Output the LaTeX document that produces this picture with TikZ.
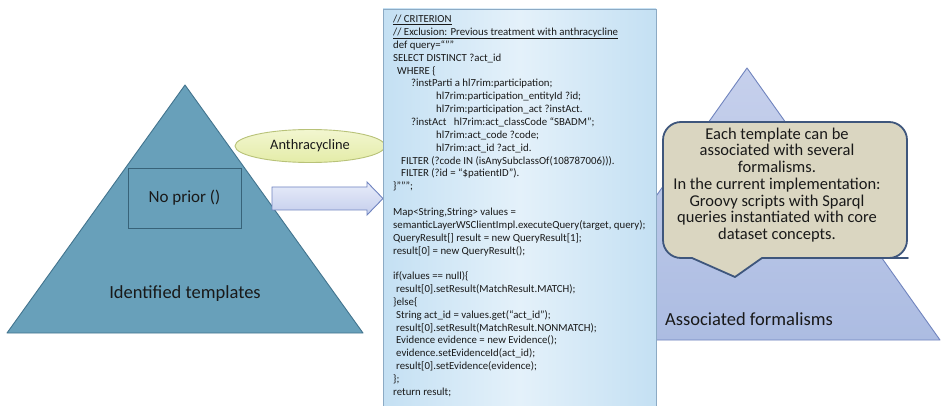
\documentclass[tikz,border=0pt]{standalone}
\usepackage{fontspec}
\setmainfont{Carlito}
\usetikzlibrary{shapes.geometric}
\definecolor{lefttrifill}{RGB}{104,160,186}
\definecolor{lefttriline}{RGB}{66,116,142}
\definecolor{righttritop}{RGB}{198,208,236}
\definecolor{righttribot}{RGB}{172,188,226}
\definecolor{righttriline}{RGB}{112,132,190}
\definecolor{anthfill}{RGB}{228,236,168}
\definecolor{anthtop}{RGB}{242,246,208}
\definecolor{anthline}{RGB}{184,194,120}
\definecolor{arrowfill}{RGB}{196,206,236}
\definecolor{arrowtop}{RGB}{232,236,250}
\definecolor{arrowline}{RGB}{112,132,192}
\definecolor{codeedge}{RGB}{196,224,243}
\definecolor{codemid}{RGB}{228,241,250}
\definecolor{codeline}{RGB}{140,170,196}
\definecolor{bubblefill}{RGB}{218,214,193}
\definecolor{bubbleline}{RGB}{62,86,124}
\definecolor{txt}{RGB}{25,25,25}
\tikzset{
  lefttri/.style={fill=lefttrifill, draw=lefttriline, line width=0.9pt, line join=round},
  righttri/.style={top color=righttritop, bottom color=righttribot, draw=righttriline, line width=0.9pt, line join=round},
  nopriorbox/.style={draw=lefttriline!85!black, line width=0.9pt, minimum width=113pt, minimum height=60pt, inner sep=0pt, font=\fontsize{17}{20}\selectfont, text=txt},
  bigtxt/.style={font=\fontsize{18.5}{22}\selectfont, text=txt, inner sep=0pt},
  anthnode/.style={ellipse, top color=anthtop, bottom color=anthfill, draw=anthline, line width=0.9pt, minimum width=150pt, minimum height=33pt, inner sep=0pt, font=\fontsize{14.4}{17}\selectfont, text=txt},
  blockarrow/.style={top color=arrowtop, bottom color=arrowfill, draw=arrowline, line width=0.9pt, line join=miter},
  codebox/.style={left color=codeedge, right color=codeedge, middle color=codemid, draw=codeline, line width=0.9pt},
  codetext/.style={anchor=north west, align=left, inner sep=0pt, font=\fontsize{10.8}{12.85}\selectfont, text=txt},
  bubble/.style={fill=bubblefill, draw=bubbleline, line width=1.8pt, line join=round},
  bubbletext/.style={align=center, inner sep=0pt, font=\fontsize{16.5}{16.7}\selectfont, text=txt}
}
\begin{document}
\begin{tikzpicture}[x=1pt,y=-1pt]
\useasboundingbox (0,0) rectangle (942,406);
\clip (0,0) rectangle (942,406);
\fill[white] (0,0) rectangle (942,406);
% left pyramid
\coordinate (LA) at (185,85);
\coordinate (LL) at (7,333);
\coordinate (LR) at (363,333);
\draw[lefttri] (LL) -- (LA) -- (LR) -- cycle;
\node[nopriorbox] (np) at (184.5,198) {No prior ()};
\node[bigtxt] (idt) at (185,294) {Identified templates};
% ellipse
\node[anthnode] (anth) at (310,146) {Anthracycline};
% block arrow
\coordinate (A1) at (272,187);
\coordinate (A2) at (367,187);
\coordinate (A3) at (367,182);
\coordinate (A4) at (383,198.5);
\coordinate (A5) at (367,215);
\coordinate (A6) at (367,210);
\coordinate (A7) at (272,210);
\draw[blockarrow] (A1) -- (A2) -- (A3) -- (A4) -- (A5) -- (A6) -- (A7) -- cycle;
% right pyramid
\coordinate (RA) at (747,68);
\coordinate (RL) at (554,340);
\coordinate (RR) at (940,340);
\draw[righttri] (RL) -- (RA) -- (RR) -- cycle;
\node[bigtxt] (asf) at (749,319) {Associated formalisms};
% code box
\draw[codebox] (383,9) rectangle (656,414);
\node[codetext] (code) at (393,15) {%
\underline{// CRITERION}\\
\underline{// Exclusion: Previous treatment with anthracycline}\\
def query=“””\\
SELECT DISTINCT ?act\_id\\
\hspace*{4pt}WHERE \{\\
\hspace*{18pt}?instParti a hl7rim:participation;\\
\hspace*{43pt}hl7rim:participation\_entityId ?id;\\
\hspace*{43pt}hl7rim:participation\_act ?instAct.\\
\hspace*{18pt}?instAct\hspace*{5pt} hl7rim:act\_classCode “SBADM”;\\
\hspace*{43pt}hl7rim:act\_code ?code;\\
\hspace*{43pt}hl7rim:act\_id ?act\_id.\\
\hspace*{8pt}FILTER (?code IN (isAnySubclassOf(108787006))).\\
\hspace*{8pt}FILTER (?id = “\$patientID”).\\
\}”””;\\
\mbox{}\\
Map<String,String> values =\\
semanticLayerWSClientImpl.executeQuery(target, query);\\
QueryResult[] result = new QueryResult[1];\\
result[0] = new QueryResult();\\
\mbox{}\\
if(values == null)\{\\
\hspace*{3pt}result[0].setResult(MatchResult.MATCH);\\
\}else\{\\
\hspace*{3pt}String act\_id = values.get(“act\_id”);\\
\hspace*{3pt}result[0].setResult(MatchResult.NONMATCH);\\
\hspace*{3pt}Evidence evidence = new Evidence();\\
\hspace*{3pt}evidence.setEvidenceId(act\_id);\\
\hspace*{3pt}result[0].setEvidence(evidence);\\
\};\\
return result;};
% callout bubble
\coordinate (BT) at (735,277);
\draw[bubble] (BT) -- (692,258) -- (685,258) [rounded corners=18pt] -- (663,258) -- (663,122) -- (907,122) -- (907,258) -- (890,258) [sharp corners] -- (762,258) -- cycle;
\node[bubbletext] (btxt) at (777,185) {Each template can be\\associated with several\\formalisms.\\In the current implementation:\\Groovy scripts with Sparql\\queries instantiated with core\\dataset concepts.};
\end{tikzpicture}
\end{document}
